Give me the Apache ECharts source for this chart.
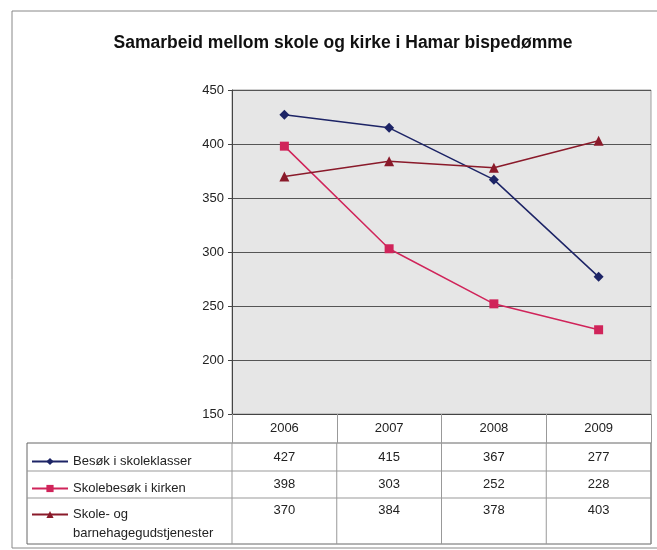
<!DOCTYPE html>
<html>
<head>
<meta charset="utf-8">
<script src="https://cdn.jsdelivr.net/npm/echarts@6/dist/echarts.min.js"></script>
<style>
  html, body { margin: 0; padding: 0; background: #fff; }
  #chart { width: 657px; height: 550px; }
</style>
</head>
<body>
<div id="chart"></div>
<script>
var categories = ['2006', '2007', '2008', '2009'];
var seriesNames = ['Besøk i skoleklasser', 'Skolebesøk i kirken', 'Skole- og barnehagegudstjenester'];
var besok = [427, 415, 367, 277];
var skolebesok = [398, 303, 252, 228];
var gudstjenester = [370, 384, 378, 403];
var yMin = 150, yMax = 450, yStep = 50;

var colors = ['#1d2466', '#d0245a', '#8a1a2a'];
var symbols = ['diamond', 'rect', 'triangle'];
var allValues = [besok, skolebesok, gudstjenester];

// table rows (y centre of each row and its borders)
var rowTops = [443, 471, 498];
var tableBottom = 544;
var rowValueY = [457, 484, 510];
var legendTops = [447, 474, 481];

var font = 'Liberation Sans, Arial, sans-serif';

var series = allValues.map(function (vals, i) {
    return {
        name: seriesNames[i],
        type: 'line',
        data: vals,
        symbol: symbols[i],
        symbolSize: i === 1 ? 9 : 10,
        itemStyle: { color: colors[i] },
        lineStyle: { color: colors[i], width: 1.5 }
    };
});

var legends = seriesNames.map(function (name, i) {
    return {
        data: [name],
        left: 26,
        top: legendTops[i],
        itemWidth: 36,
        itemHeight: 9,
        itemGap: 0,
        selectedMode: false,
        formatter: function (n) {
            // blank first line keeps the icon level with "Skole- og"
            return n === seriesNames[2] ? ' \nSkole- og\nbarnehagegudstjenester' : n;
        },
        textStyle: {
            fontFamily: font,
            fontSize: 13,
            color: '#222',
            lineHeight: 19
        }
    };
});

var option = {
    animation: false,
    title: {
        text: 'Samarbeid mellom skole og kirke i Hamar bispedømme',
        left: 338,
        textAlign: 'center',
        top: 29,
        textStyle: { fontFamily: font, fontSize: 17.5, fontWeight: 'bold', color: '#111' }
    },
    legend: legends,
    grid: {
        left: 232, right: 6, top: 90, bottom: 136,
        show: true,
        backgroundColor: '#e6e6e6',
        borderColor: '#a0a0a0',
        borderWidth: 1
    },
    xAxis: {
        type: 'category',
        data: categories,
        boundaryGap: true,
        axisLine: { lineStyle: { color: '#444' } },
        axisTick: { show: true, length: 29, alignWithLabel: false, lineStyle: { color: '#999' } },
        axisLabel: { margin: 8, fontFamily: font, fontSize: 13, color: '#222' }
    },
    yAxis: {
        type: 'value',
        min: yMin, max: yMax, interval: yStep,
        axisLine: { show: true, lineStyle: { color: '#444' } },
        axisTick: { show: true, length: 4, lineStyle: { color: '#444' } },
        axisLabel: { margin: 8, fontFamily: font, fontSize: 13, color: '#222' },
        splitLine: { lineStyle: { color: '#555', width: 1 } }
    },
    series: series
};

var chart = echarts.init(document.getElementById('chart'));
chart.setOption(option);

// build the data table below the plot from the same arrays
var centers = categories.map(function (c) {
    return chart.convertToPixel({ xAxisIndex: 0 }, c);
});
var band = centers[1] - centers[0];
var leftEdge = centers[0] - band / 2;
var rightEdge = centers[centers.length - 1] + band / 2;
var tableLeft = 27;

var graphics = [];
// outer frame
graphics.push({
    type: 'rect', silent: true, z: -10,
    shape: { x: 12, y: 11, width: 660, height: 537 },
    style: { fill: 'none', stroke: '#888', lineWidth: 1 }
});
// table outline and horizontal lines
graphics.push({
    type: 'rect', silent: true,
    shape: { x: tableLeft, y: rowTops[0], width: rightEdge - tableLeft, height: tableBottom - rowTops[0] },
    style: { fill: 'none', stroke: '#666', lineWidth: 1 }
});
rowTops.slice(1).forEach(function (y) {
    graphics.push({
        type: 'line', silent: true,
        shape: { x1: tableLeft, y1: y, x2: rightEdge, y2: y },
        style: { stroke: '#999', lineWidth: 1 }
    });
});
// vertical column lines
for (var k = 0; k <= categories.length; k++) {
    var x = leftEdge + k * band;
    graphics.push({
        type: 'line', silent: true,
        shape: { x1: x, y1: rowTops[0], x2: x, y2: tableBottom },
        style: { stroke: '#999', lineWidth: 1 }
    });
}
// cell values
allValues.forEach(function (vals, r) {
    vals.forEach(function (v, c) {
        graphics.push({
            type: 'text', silent: true,
            style: {
                text: String(v), x: centers[c], y: rowValueY[r],
                textAlign: 'center', textVerticalAlign: 'middle',
                font: '13px ' + font, fill: '#222'
            }
        });
    });
});

chart.setOption({ graphic: graphics });
</script>
</body>
</html>
